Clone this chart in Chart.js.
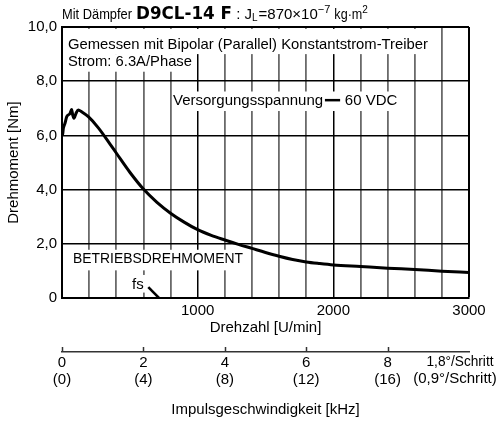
<!DOCTYPE html>
<html>
<head>
<meta charset="utf-8">
<script src="https://cdn.jsdelivr.net/npm/chart.js@4.4.1/dist/chart.umd.min.js"></script>
<style>
    body { margin: 0; background: #fff; }
    canvas { display: block; }
</style>
</head>
<body>
<canvas id="chart" width="499" height="421"></canvas>
<script>
// ---------------- DATA ----------------
// Drehzahl [U/min] / Drehmoment [Nm]
const speedRpm = [0, 5, 10, 22, 35, 59, 71, 79, 88, 103, 120, 145, 194, 268, 354, 400, 500, 600, 700, 800, 900, 1000, 1100, 1200, 1300, 1400, 1500, 1600, 1700, 1800, 1900, 2000, 2200, 2400, 2600, 2800, 3000];
const torqueNm = [6.0, 6.05, 6.26, 6.45, 6.69, 6.81, 6.96, 6.75, 6.63, 6.81, 6.94, 6.87, 6.69, 6.28, 5.68, 5.35, 4.64, 4.02, 3.53, 3.13, 2.80, 2.52, 2.31, 2.14, 1.98, 1.83, 1.68, 1.54, 1.42, 1.33, 1.27, 1.22, 1.16, 1.10, 1.05, 0.99, 0.94];

// short fs segment
const fsRpm = [636, 715];
const fsNm = [0.40, 0.0];

// lower scale: pulse rate [kHz]
const fullStepKHz = [0, 2, 4, 6, 8];     // 1,8°/Schritt
const halfStepKHz = [0, 4, 8, 12, 16];   // 0,9°/Schritt
const speedLabels = [1000, 2000, 3000];

const FONT = '"Liberation Sans", Arial, sans-serif';
Chart.defaults.font.family = FONT;
Chart.defaults.font.size = 15;
Chart.defaults.font.lineHeight = 1.15;
Chart.defaults.color = "#000";

// ---------------- NOTES ON THE GRID ----------------
// white boxes (rpm / Nm ranges) that hide the grid under the texts
const boxes = [
    { x0: 12, x1: 2725, y0: 9.93, y1: 9.0 },
    { x0: 12, x1: 960, y0: 9.0, y1: 8.35 },
    { x0: 812, x1: 2530, y0: 7.62, y1: 6.9 },
    { x0: 60, x1: 1355, y0: 1.78, y1: 1.02 },
    { x0: 500, x1: 625, y0: 0.85, y1: 0.2 }
];
const notes = [
    { t: "Gemessen mit Bipolar (Parallel) Konstantstrom-Treiber", x: 44, y: 9.34, w: 360 },
    { t: "Strom: 6.3A/Phase", x: 44, y: 8.71, w: 124 },
    { t: "Versorgungsspannung", x: 818, y: 7.27, w: 151 },
    { t: "60 VDC", x: 2085, y: 7.27, w: 53 },
    { t: "BETRIEBSDREHMOMENT", x: 81, y: 1.44, w: 170 },
    { t: "fs", x: 516, y: 0.48 }
];

function text(ctx, t, x, y, w) {
    if (w) ctx.fillText(t, x, y, w);
    else ctx.fillText(t, x, y);
}

const overlay = {
    id: "overlay",
    beforeDatasetsDraw(chart) {
        const { ctx, scales: { x, y } } = chart;
        ctx.save();
        ctx.fillStyle = "#fff";
        boxes.forEach(b => {
            const l = x.getPixelForValue(b.x0), r = x.getPixelForValue(b.x1);
            const t = y.getPixelForValue(b.y0), bt = y.getPixelForValue(b.y1);
            ctx.fillRect(l, t, r - l, bt - t);
        });
        ctx.fillStyle = "#000";
        ctx.font = "15px " + FONT;
        ctx.textBaseline = "middle";
        ctx.textAlign = "left";
        notes.forEach(n => text(ctx, n.t, x.getPixelForValue(n.x), y.getPixelForValue(n.y), n.w));
        // legend dash for 60 VDC
        ctx.strokeStyle = "#000";
        ctx.lineWidth = 2.5;
        ctx.beginPath();
        ctx.moveTo(x.getPixelForValue(1938), y.getPixelForValue(7.3));
        ctx.lineTo(x.getPixelForValue(2050), y.getPixelForValue(7.3));
        ctx.stroke();
        ctx.restore();
    },
    afterDraw(chart) {
        const { ctx, scales: { x2 } } = chart;
        ctx.save();
        ctx.fillStyle = "#000";
        ctx.textBaseline = "alphabetic";
        ctx.textAlign = "left";

        // title line
        const runs = [
            { t: "Mit Dämpfer", f: "14px " + FONT, w: 70, gap: 4 },
            { t: "D9CL-14 F", f: "bold 17px \"DejaVu Sans\"", w: 96 },
            { t: " : ", f: "15px " + FONT },
            { t: "J", f: "15px " + FONT },
            { t: "L", f: "10px " + FONT, dy: 2, gap: 1 },
            { t: "=870×10", f: "15px " + FONT, w: 67 },
            { t: "−7", f: "11px " + FONT, dy: -6, gap: 4 },
            { t: "kg·m", f: "15px " + FONT, w: 28 },
            { t: "2", f: "10px " + FONT, dy: -6 }
        ];
        let cx = chart.chartArea.left;
        runs.forEach(r => {
            ctx.font = r.f;
            const mw = ctx.measureText(r.t).width;
            text(ctx, r.t, cx, 19 + (r.dy || 0), r.w);
            cx += (r.w ? Math.min(mw, r.w) : mw) + (r.gap || 0);
        });

        // small upward ticks on the pulse-rate axis
        ctx.strokeStyle = "#333";
        ctx.lineWidth = 1.5;
        fullStepKHz.forEach(v => {
            const p = Math.round(x2.getPixelForValue(v)) + 0.5;
            ctx.beginPath();
            ctx.moveTo(p, x2.top);
            ctx.lineTo(p, x2.top - 5);
            ctx.stroke();
        });

        // step angle captions at the end of the lower axis
        ctx.font = "15px " + FONT;
        ctx.textAlign = "center";
        ctx.textBaseline = "middle";
        text(ctx, "1,8°/Schritt", 460, x2.top + 10, 67);
        text(ctx, "(0,9°/Schritt)", 455, x2.top + 27, 88);
        ctx.restore();
    }
};

// ---------------- CREATE CHART ----------------
const curve = speedRpm.map((v, i) => ({ x: v, y: torqueNm[i] }));
const fsLine = fsRpm.map((v, i) => ({ x: v, y: fsNm[i] }));

new Chart(document.getElementById("chart"), {
    type: "line",
    data: {
        datasets: [
            {
                data: curve,
                borderColor: "#000",
                borderWidth: 3,
                pointRadius: 0,
                cubicInterpolationMode: "monotone"
            },
            {
                data: fsLine,
                borderColor: "#000",
                borderWidth: 2.5,
                pointRadius: 0
            }
        ]
    },
    options: {
        responsive: false,
        animation: false,
        devicePixelRatio: 1,
        layout: { padding: { top: 27, right: 30, left: 0, bottom: 0 } },
        plugins: { legend: { display: false }, tooltip: { enabled: false } },
        scales: {
            x: {
                type: "linear",
                min: 0,
                max: 3000,
                afterFit: s => { s.height = 54; },
                ticks: {
                    stepSize: 200,
                    autoSkip: false,
                    maxRotation: 0,
                    padding: 4,
                    callback: v => speedLabels.includes(v) ? String(v) : ""
                },
                grid: {
                    drawTicks: false,
                    color: c => c.tick.value % 1000 === 0 ? "#000" : "#6a6a6a",
                    lineWidth: c => c.tick.value === 3000 ? 2 : (c.tick.value % 1000 === 0 ? 1.5 : 1.8)
                },
                border: { color: "#000", width: 2 },
                title: { display: true, text: "Drehzahl [U/min]", padding: { top: 0, bottom: 16 } }
            },
            x2: {
                type: "linear",
                position: "bottom",
                min: 0,
                max: 10,
                weight: 1,
                afterFit: s => { s.height = 69; },
                ticks: {
                    stepSize: 2,
                    autoSkip: false,
                    maxRotation: 0,
                    padding: 2,
                    callback: v => {
                        const i = fullStepKHz.indexOf(v);
                        return i < 0 ? "" : [String(v), "(" + halfStepKHz[i] + ")"];
                    }
                },
                grid: { display: false, drawTicks: false },
                border: { color: "#333", width: 1.5 },
                title: { display: true, text: "Impulsgeschwindigkeit [kHz]", padding: { top: 0, bottom: 3 } }
            },
            y: {
                min: 0,
                max: 10,
                afterFit: s => { s.width = 62; },
                ticks: {
                    stepSize: 2,
                    padding: 5,
                    callback: v => v === 0 ? "0" : v.toFixed(1).replace(".", ",")
                },
                grid: {
                    drawTicks: false,
                    color: "#000",
                    lineWidth: c => c.tick.value === 10 ? 2 : 1.5
                },
                border: { color: "#000", width: 2 },
                title: { display: true, text: "Drehmoment [Nm]", padding: { top: 5, bottom: 0 } }
            }
        }
    },
    plugins: [overlay]
});
</script>
</body>
</html>
